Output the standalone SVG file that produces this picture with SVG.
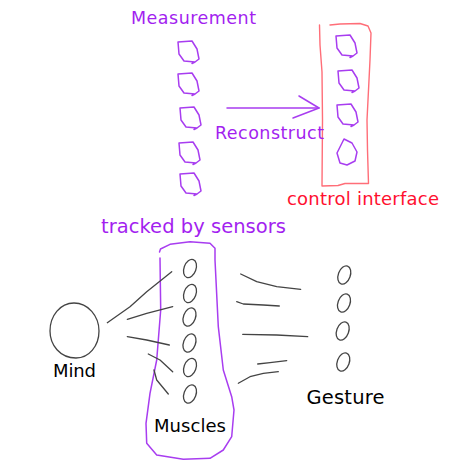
<svg xmlns="http://www.w3.org/2000/svg" width="466" height="466" viewBox="0 0 466 466">
<style>
.t{font-family:"DejaVu Sans","Verdana",sans-serif}
.pu{fill:#a31ff0}
.sk{fill:none;stroke-linecap:round;stroke-linejoin:round}
.p{stroke:#a83df0;stroke-width:1.5}
.k{stroke:#444;stroke-width:1.3}
</style>
<defs>
<path id="pent" d="M1,13 L0,1 L14,0 L19,8 L21,18 L17,21 L6,20 Z M17,21 L14,22.5"/>
<ellipse id="ov" cx="0" cy="0" rx="6" ry="9.5"/>
</defs>
<rect width="466" height="466" fill="#fff"/>

<g id="measurement">
<text class="t pu" x="131" y="24" font-size="17.5" textLength="125">Measurement</text>
<g class="sk p">
<use href="#pent" x="178" y="41"/>
<use href="#pent" x="178" y="73"/>
<use href="#pent" x="180" y="107"/>
<use href="#pent" x="179" y="142"/>
<use href="#pent" x="180" y="173"/>
</g>
</g>

<g id="control-interface">
<path class="sk" stroke="#ff6e78" stroke-width="1.4" d="M319.5,25 L320,45 L322,72 L322.5,120 L322,186 L338,185.5 L345,183.5 L368.5,183.5 L367.5,150 L367,120 L370,60 L371,33 L368,26 L360,23.5 L340,24 L330,25"/>
<g class="sk p">
<use href="#pent" x="336" y="35"/>
<use href="#pent" x="338" y="70"/>
<use href="#pent" x="337" y="104"/>
<path d="M344,139 L352,143 L357,152 L355,161 L347,165 L340,163 L337,153 Z"/>
</g>
<text class="t" fill="#ff1030" x="287" y="205" font-size="18" textLength="152">control interface</text>
</g>

<g id="muscles">
<path class="sk p" stroke-width="1.4" d="M159.5,252 L160.5,249 L170,244.3 L190,241.7 L210,243.3 L215,248.3 L215,260 L218.3,326.7 L223.3,370 L231.7,396.7 L234,410 L231.7,436.7 L223.3,450 L210,458.3 L183.3,459.3 L156.7,455 L146.7,443.3 L146,423.3 L150,393.3 L156.7,360 L160.7,310 L160,258"/>
<g class="sk k" stroke-width="1.2">
<use href="#ov" transform="translate(190,268.5) rotate(20)"/>
<use href="#ov" transform="translate(190,293.5) rotate(20)"/>
<use href="#ov" transform="translate(189.5,317) rotate(20)"/>
<use href="#ov" transform="translate(189.5,343) rotate(20)"/>
<use href="#ov" transform="translate(190,367.5) rotate(20)"/>
<use href="#ov" transform="translate(190,394) rotate(20)"/>
</g>
<text class="t" fill="#000" x="154" y="432" font-size="18" textLength="72">Muscles</text>
</g>

<g id="tracked-label">
<text class="t pu" x="101" y="233" font-size="19.5" textLength="185">tracked by sensors</text>
</g>

<g id="mind">
<path class="sk k" d="M74,303 C88,303 99,316 99,331 C99,346 89,358 76,358 C60,358 50,345 50,331 C50,316 60,303 74,303 Z"/>
<text class="t" fill="#000" x="53" y="377" font-size="18" textLength="43">Mind</text>
</g>

<g id="gesture">
<g class="sk k" stroke-width="1.2">
<use href="#ov" transform="translate(344.3,275) rotate(20)"/>
<use href="#ov" transform="translate(344,303) rotate(20)"/>
<use href="#ov" transform="translate(342.7,331) rotate(20)"/>
<use href="#ov" transform="translate(343.3,362) rotate(20)"/>
</g>
<text class="t" fill="#000" x="306.5" y="404" font-size="19.5" textLength="78">Gesture</text>
</g>

<g id="connectors">
<g class="sk p">
<path d="M227,108 L319,108"/>
<path d="M299,96 L319,108 L293,118"/>
</g>
<text class="t pu" x="215" y="139" font-size="17.5" textLength="109">Reconstruct</text>
<g class="sk k">
<path d="M107.3,322.7 L130,306.7 L146.7,291.7 L171.7,271.7"/>
<path d="M127.3,319.3 L146.7,313.3 L172.7,306.7"/>
<path d="M127.3,336.7 L146.7,340 L169.3,345"/>
<path d="M148.3,354 L160,360 L172.7,371.7"/>
<path d="M154,370 L156.7,380 L168.3,394"/>
<path d="M240.7,274 L256.7,281.7 L276.7,286.7 L300.7,289.3"/>
<path d="M236.7,301.7 L243.3,304 L263.3,305 L279.3,306"/>
<path d="M242.7,334.3 L276.7,335 L307.7,336.7"/>
<path d="M257.7,364 L270,362.7 L286.7,360.7"/>
<path d="M238.3,383.3 L250,376.7 L263.3,373.3 L278.3,371.7"/>
</g>
</g>
</svg>
